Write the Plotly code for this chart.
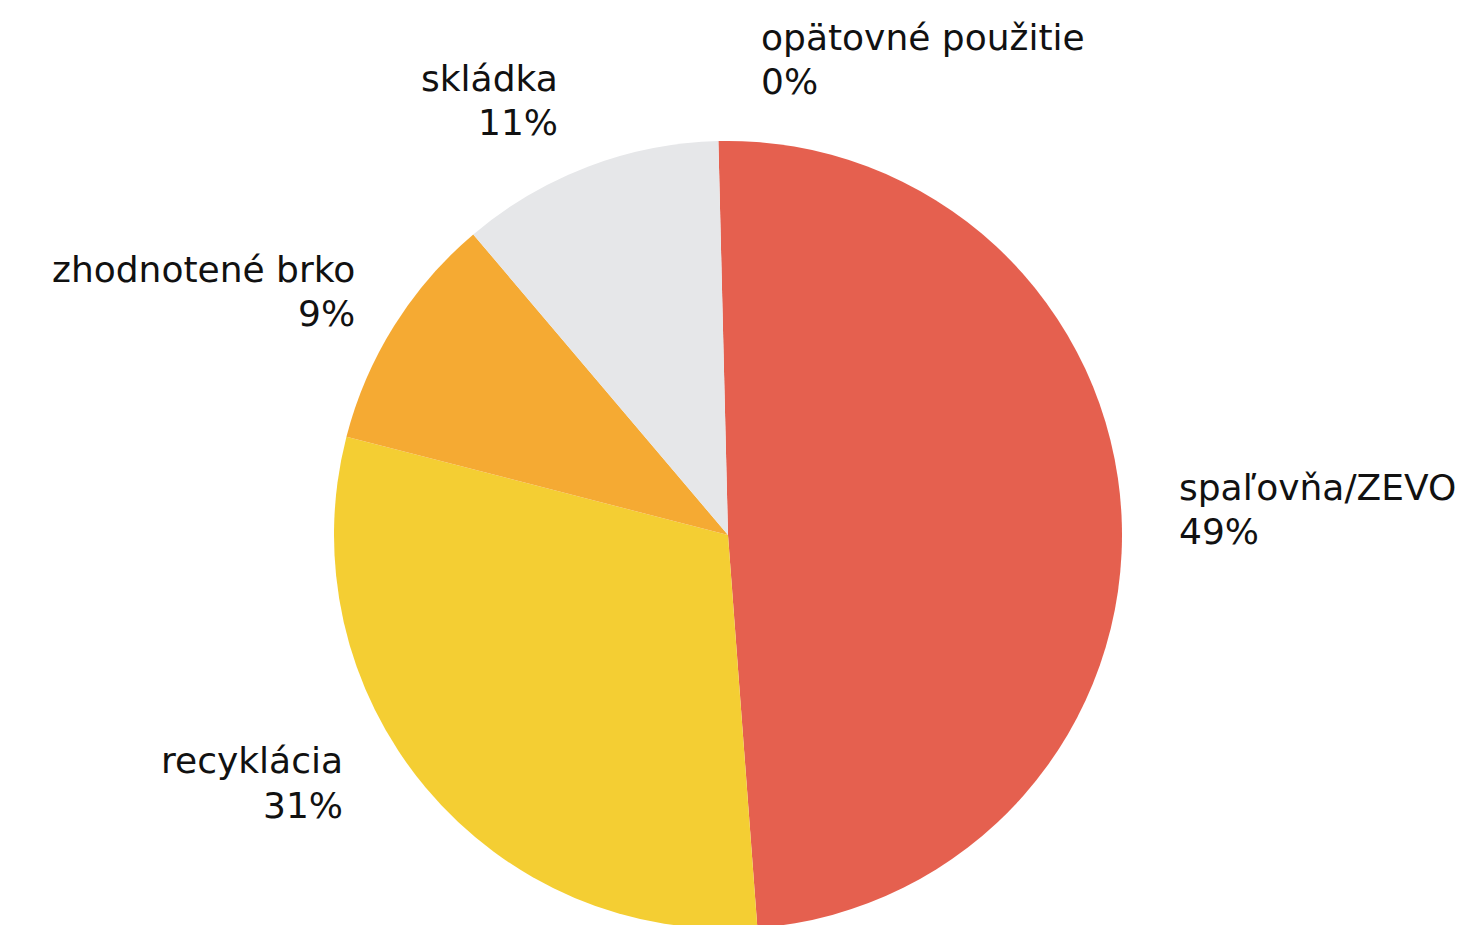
import plotly.graph_objects as go

# ---- data ----
categories = ["spaľovňa/ZEVO", "recyklácia", "zhodnotené brko", "skládka", "opätovné použitie"]
values = [49.2, 30.2, 9.8, 10.8, 0.0]
percent_labels = ["49%", "31%", "9%", "11%", "0%"]

# ---- styles / layout ----
colors = ["#e5604f", "#f4ce33", "#f5aa33", "#e6e7e9", "#8fbf73"]
W, H = 1466, 940
FONT = "DejaVu Sans"
FONT_SIZE = 36
BASELINE_TO_CENTER = 0.346 * FONT_SIZE

# label anchor positions (pixels): (x, baseline line 1, baseline line 2, xanchor)
label_pos = [
    (1178, 500, 544, "left"),
    (344, 773, 818, "right"),
    (356, 282, 326, "right"),
    (559, 91, 135, "right"),
    (760, 50, 94, "left"),
]

fig = go.Figure(
    go.Pie(
        labels=categories,
        values=values,
        sort=False,
        direction="clockwise",
        rotation=-1.4,
        marker=dict(colors=colors, line=dict(width=0)),
        textinfo="none",
        hoverinfo="label+percent",
        showlegend=False,
        domain=dict(x=[334 / W, 1122 / W], y=[1 - 929 / H, 1 - 141 / H]),
    )
)

annotations = []
for cat, pct, (px, b1, b2, xa) in zip(categories, percent_labels, label_pos):
    for txt, b in ((cat, b1), (pct, b2)):
        annotations.append(
            dict(
                text=txt,
                x=px / W,
                y=1 - (b - BASELINE_TO_CENTER) / H,
                xref="paper",
                yref="paper",
                xanchor=xa,
                yanchor="middle",
                align=xa,
                showarrow=False,
                borderpad=0,
                font=dict(family=FONT, size=FONT_SIZE, color="#111111"),
            )
        )

fig.update_layout(
    width=W,
    height=H,
    autosize=False,
    margin=dict(l=0, r=0, t=0, b=0),
    paper_bgcolor="white",
    plot_bgcolor="white",
    annotations=annotations,
)

fig.write_html(
    "out.html",
    config={"displayModeBar": False},
    post_script="document.body.style.margin='0';document.body.style.overflow='hidden';",
)
